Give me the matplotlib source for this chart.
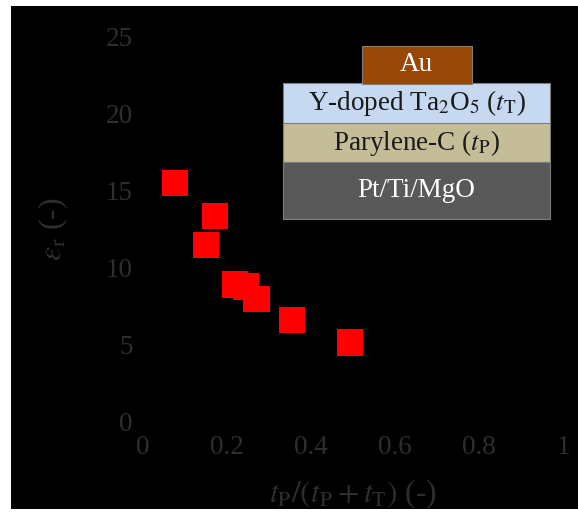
import matplotlib
matplotlib.use("Agg")
import matplotlib.pyplot as plt
from matplotlib.patches import Rectangle

plt.rcParams['font.family'] = ['Liberation Serif', 'DejaVu Serif']
plt.rcParams['mathtext.fontset'] = 'stix'

# Thickness ratio tP/(tP+tT) and relative permittivity
ratio = [0.077, 0.172, 0.151, 0.219, 0.246, 0.271, 0.355, 0.493]
eps_r = [15.45, 13.34, 11.46, 8.88, 8.75, 7.93, 6.60, 5.12]

x_ticks = [0, 0.2, 0.4, 0.6, 0.8, 1]
x_tick_labels = ['0', '0.2', '0.4', '0.6', '0.8', '1']
y_ticks = [0, 5, 10, 15, 20, 25]

# Layer stack of the device, top to bottom
layer_names = ['Y-doped Ta$_2$O$_5$ ($t_\\mathrm{T}$)', 'Parylene-C ($t_\\mathrm{P}$)', 'Pt/Ti/MgO']
layer_colors = ['#c6d9f1', '#c4bd97', '#595959']
layer_text = ['#1a1a1a', '#1a1a1a', 'white']

W, H = 578, 515
fig = plt.figure(figsize=(W / 100, H / 100), dpi=100, facecolor='white')

def fx(px):
    return px / W

def fy(py):
    return 1 - py / H

# black panel behind everything
fig.add_artist(Rectangle((fx(11), fy(509)), fx(567), (509 - 6) / H,
                         transform=fig.transFigure, facecolor='black',
                         edgecolor='none', zorder=0))

ax = fig.add_axes([fx(142.5), fy(421.5), fx(563 - 142.5), (421.5 - 36) / H])
ax.set_facecolor('none')
txt = '#2e2e2e'

ax.scatter(ratio, eps_r, marker='s', s=355, color='#ff0000', edgecolors='none',
           zorder=3, clip_on=False)

ax.set_xlim(0, 1)
ax.set_ylim(0, 25)
ax.set_xticks(x_ticks)
ax.set_xticklabels(x_tick_labels)
ax.set_yticks(y_ticks)
for s in ax.spines.values():
    s.set_visible(False)
ax.tick_params(axis='both', length=0, labelsize=19.5, colors=txt)
ax.tick_params(axis='x', pad=10)
ax.tick_params(axis='y', pad=7)

ax.set_xlabel('$t_\\mathrm{P}/(t_\\mathrm{P}+t_\\mathrm{T})$ (-)', fontsize=22.5,
              color=txt, labelpad=12)
ax.set_ylabel('$\\varepsilon_\\mathrm{r}$ (-)', fontsize=23, color=txt, labelpad=26)

# device cross-section
x0, x1 = 283.3, 550
bounds = [83.3, 123.3, 161.7, 219]
for i, (name, col, tc) in enumerate(zip(layer_names, layer_colors, layer_text)):
    top, bot = bounds[i], bounds[i + 1]
    fig.add_artist(Rectangle((fx(x0), fy(bot)), fx(x1 - x0), (bot - top) / H,
                             transform=fig.transFigure, facecolor=col,
                             edgecolor='#7f7f7f', linewidth=0.8, zorder=5))
    fig.text(fx((x0 + x1) / 2), fy((top + bot) / 2), name, ha='center', va='center',
             fontsize=19.5, color=tc, zorder=6)

fig.add_artist(Rectangle((fx(361.7), fy(84)), fx(471.7 - 361.7), (84 - 45.7) / H,
                         transform=fig.transFigure, facecolor='#984806',
                         edgecolor='#7f7f7f', linewidth=0.8, zorder=5))
fig.text(fx((361.7 + 471.7) / 2), fy(65), 'Au', ha='center', va='center',
         fontsize=19.5, color='white', zorder=6)

fig.savefig('out.png', dpi=100, facecolor='white')
